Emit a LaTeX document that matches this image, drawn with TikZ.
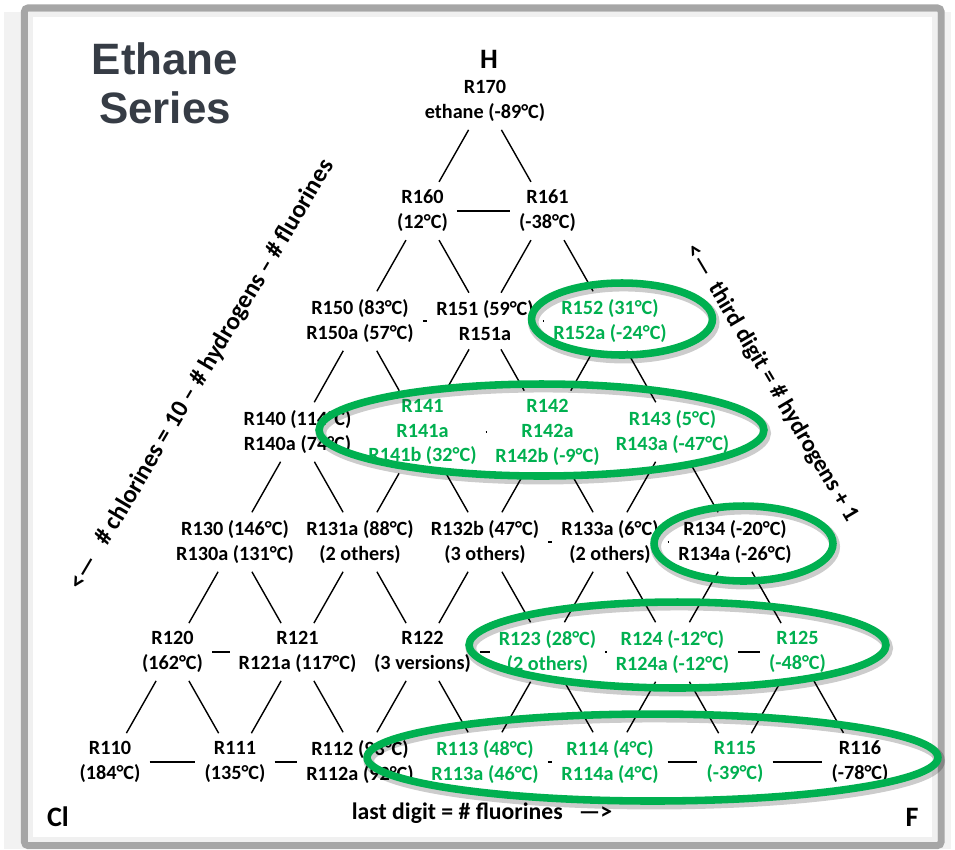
\documentclass[tikz,border=0pt]{standalone}
\usepackage{fontspec}
\setmainfont{Carlito}
\newfontfamily\headfont{Liberation Sans}
\usetikzlibrary{shapes.geometric}
\definecolor{ringgreen}{HTML}{00B050}
\definecolor{framegray}{HTML}{A6A6A6}
\definecolor{titlegray}{HTML}{363C45}
\begin{document}
\begin{tikzpicture}[x=0.02cm,y=-0.02cm,
        fluid/.style={align=center,inner xsep=5pt,inner ysep=4.5pt,font=\fontsize{11.5}{14.2}\selectfont\bfseries},
        green fluid/.style={fluid,text=ringgreen},
        ring/.style={ellipse,draw=ringgreen,line width=4.3pt,inner sep=0pt,
            preaction={draw=black,draw opacity=.2,line width=6pt,transform canvas={xshift=1pt,yshift=-1.8pt}}},
        axis/.style={font=\fontsize{13.5}{16}\selectfont\bfseries},
        corner/.style={font=\fontsize{16}{19}\selectfont\bfseries}]
    \useasboundingbox (0,0) rectangle (955,849);
    \fill [black!5] (4,12) rectangle (951,849);
    \draw [framegray,line width=4pt,fill=white,rounded corners=2pt] (24.5,8) rectangle (941,845.5);
    \draw [black!6,line width=2.8pt] (30.5,14.5) rectangle (934.5,839.5);

    \node (title) at (165,83) [font=\headfont\fontsize{25}{27.8}\selectfont\bfseries,text=titlegray,align=center] {Ethane\\Series};
    \node (hcorner) at (489,59) [corner] {H};
    \node (clcorner) at (58,817) [corner] {Cl};
    \node (fcorner) at (912,817) [corner] {F};

    \node (n170) at (485,101) [fluid] {R170\\ethane (-89°C)};

    \node (n160) at (422.5,211) [fluid] {R160\\(12°C)};
    \node (n161) at (547.5,211) [fluid] {R161\\(-38°C)};

    \node (n150) at (360,321) [fluid] {R150 (83°C)\\R150a (57°C)};
    \node (n151) at (485,321) [fluid] {R151 (59°C)\\R151a};
    \node (n152) at (610,321) [green fluid] {R152 (31°C)\\R152a (-24°C)};

    \node (n140) at (297.5,432) [fluid] {R140 (114°C)\\R140a (74°C)};
    \node (n141) at (422.5,432) [green fluid] {R141\\R141a\\R141b (32°C)};
    \node (n142) at (547.5,432) [green fluid] {R142\\R142a\\R142b (-9°C)};
    \node (n143) at (672.5,432) [green fluid] {R143 (5°C)\\R143a (-47°C)};

    \node (n130) at (235,542) [fluid] {R130 (146°C)\\R130a (131°C)};
    \node (n131) at (360,542) [fluid] {R131a (88°C)\\(2 others)};
    \node (n132) at (485,542) [fluid] {R132b (47°C)\\(3 others)};
    \node (n133) at (610,542) [fluid] {R133a (6°C)\\(2 others)};
    \node (n134) at (735,542) [fluid] {R134 (-20°C)\\R134a (-26°C)};

    \node (n120) at (172.5,652) [fluid] {R120\\(162°C)};
    \node (n121) at (297.5,652) [fluid] {R121\\R121a (117°C)};
    \node (n122) at (422.5,652) [fluid] {R122\\(3 versions)};
    \node (n123) at (547.5,652) [green fluid] {R123 (28°C)\\(2 others)};
    \node (n124) at (672.5,652) [green fluid] {R124 (-12°C)\\R124a (-12°C)};
    \node (n125) at (797.5,652) [green fluid] {R125\\(-48°C)};

    \node (n110) at (110,762) [fluid] {R110\\(184°C)};
    \node (n111) at (235,762) [fluid] {R111\\(135°C)};
    \node (n112) at (360,762) [fluid] {R112 (93°C)\\R112a (92°C)};
    \node (n113) at (485,762) [green fluid] {R113 (48°C)\\R113a (46°C)};
    \node (n114) at (610,762) [green fluid] {R114 (4°C)\\R114a (4°C)};
    \node (n115) at (735,762) [green fluid] {R115\\(-39°C)};
    \node (n116) at (860,762) [fluid] {R116\\(-78°C)};

    \path [line width=0.8pt]
        (n170) edge (n160) edge (n161)
        (n160) edge (n150) edge (n151)
        (n161) edge (n151) edge (n152)
        (n150) edge (n140) edge (n141)
        (n151) edge (n141) edge (n142)
        (n152) edge (n142) edge (n143)
        (n140) edge (n130) edge (n131)
        (n141) edge (n131) edge (n132)
        (n142) edge (n132) edge (n133)
        (n143) edge (n133) edge (n134)
        (n130) edge (n120) edge (n121)
        (n131) edge (n121) edge (n122)
        (n132) edge (n122) edge (n123)
        (n133) edge (n123) edge (n124)
        (n134) edge (n124) edge (n125)
        (n120) edge (n110) edge (n111)
        (n121) edge (n111) edge (n112)
        (n122) edge (n112) edge (n113)
        (n123) edge (n113) edge (n114)
        (n124) edge (n114) edge (n115)
        (n125) edge (n115) edge (n116)
    ;
    \path [line width=0.8pt]
        (n160) edge (n161)
        (n150) edge (n151)
        (n151) edge (n152)
        (n141) edge (n142)
        (n132) edge (n133)
        (n133) edge (n134)
        (n120) edge (n121)
        (n122) edge (n123)
        (n123) edge (n124)
        (n124) edge (n125)
        (n110) edge (n111)
        (n111) edge (n112)
        (n113) edge (n114)
        (n114) edge (n115)
        (n115) edge (n116)
    ;

    \node (chlorine axis) at (202,375) [axis,font=\fontsize{14.2}{17}\selectfont\bfseries,rotate=59.3] {<—\ \ \ \# chlorines = 10 – \# hydrogens – \# fluorines};
    \node (hydrogen axis) at (772,383) [axis,rotate=-59.3] {<—\ \ third digit = \# hydrogens + 1};
    \node (fluorine axis) at (482,813) [axis] {last digit = \# fluorines\ \ \ —>};

    \node (ring152) at (622,319) [ring,minimum width=3.62cm,minimum height=1.44cm] {};
    \node (ring14x) at (541.5,430) [ring,minimum width=8.9cm,minimum height=1.84cm] {};
    \node (ring134) at (743.5,543.5) [ring,minimum width=3.58cm,minimum height=1.5cm] {};
    \node (ring12x) at (677.5,645) [ring,minimum width=8.34cm,minimum height=1.72cm] {};
    \node (ring11x) at (652.5,757.5) [ring,minimum width=11.42cm,minimum height=1.74cm] {};
\end{tikzpicture}
\end{document}
